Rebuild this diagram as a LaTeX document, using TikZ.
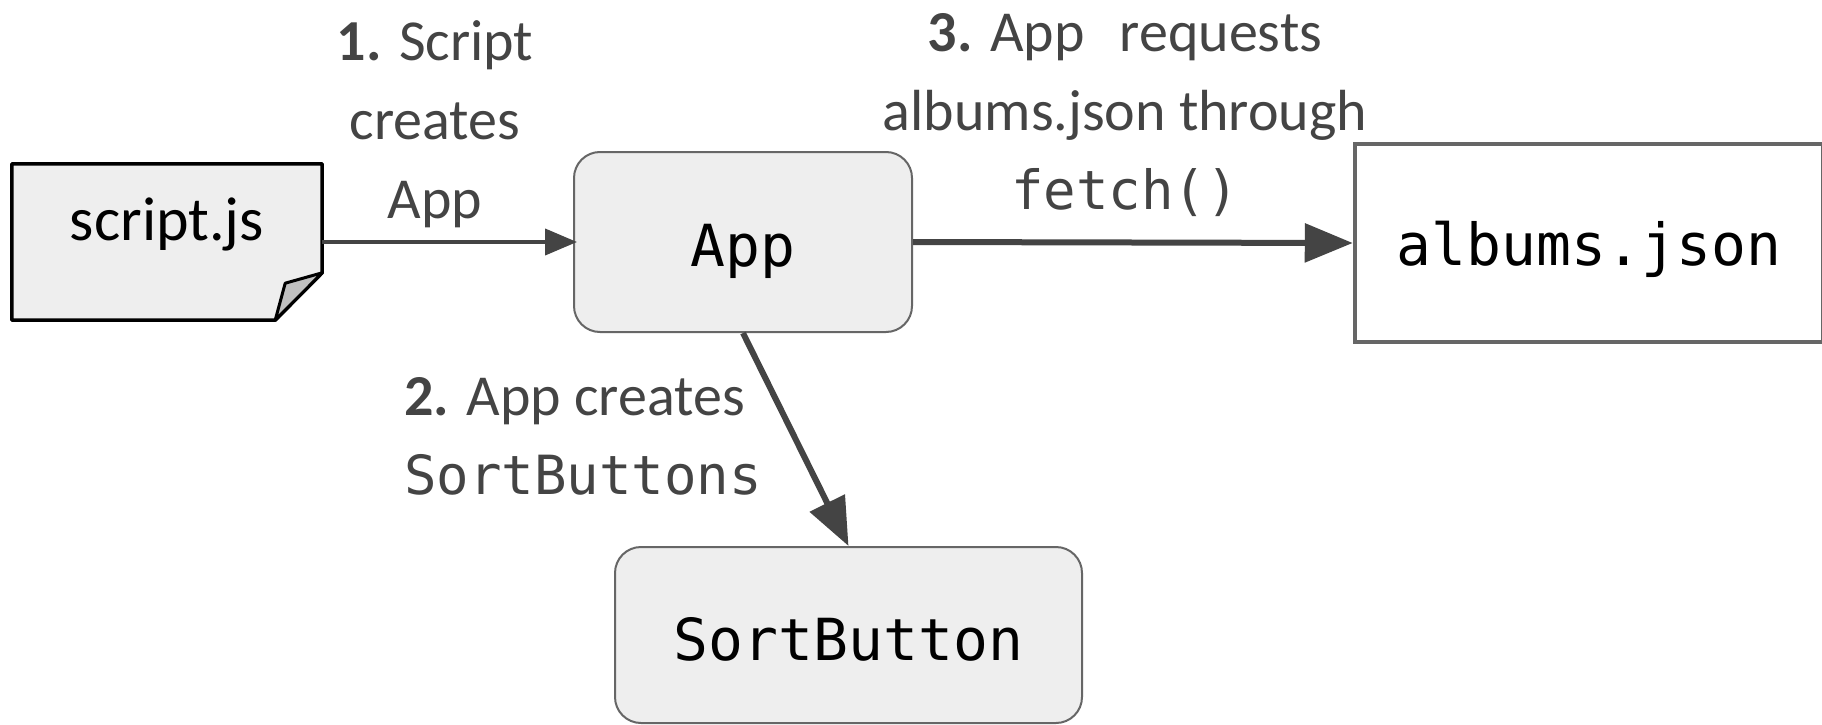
\documentclass[tikz,border=0pt]{standalone}
\usepackage{fontspec}
\setmainfont{Carlito}
\newfontfamily\codefont{DejaVu Sans Mono}
\usetikzlibrary{arrows.meta,backgrounds,calc}
\definecolor{boxfill}{HTML}{EEEEEE}
\definecolor{boxline}{HTML}{666666}
\definecolor{flowgray}{HTML}{444444}
\definecolor{labelgray}{HTML}{444444}
\definecolor{foldgray}{HTML}{C0C0C0}
\newcommand{\labelcode}[1]{{\codefont\fontsize{54}{79}\selectfont #1}}

\begin{document}
\begin{tikzpicture}[x=1pt,y=-1pt,
  component/.style={draw=boxline, line width=2pt, fill=boxfill, rounded corners=26pt,
    font=\codefont\fontsize{58}{70}\selectfont, text depth=0pt},
  datafile/.style={draw=boxline, line width=4.5pt, fill=white,
    font=\codefont\fontsize{58}{70}\selectfont, text depth=0pt},
  docfile/.style={inner sep=0pt, font=\fontsize{62}{70}\selectfont},
  lbl/.style={inner sep=0pt, text=labelgray, font=\fontsize{58}{79}\selectfont},
  flow/.style={draw=flowgray, line join=miter},
  smallhead/.style={-{Triangle[length=32pt,width=26pt]}},
  bighead/.style={-{Triangle[length=48pt,width=38pt]}},
]
\useasboundingbox (0,0) rectangle (1822,725);

% components
\node[docfile, minimum width=310pt, minimum height=156pt, text height=20pt, text depth=24pt]
  (script) at (167,242) {script.js};
\node[component, minimum width=338pt, minimum height=180pt, text height=48pt]
  (app) at (743,242) {App};
\node[datafile, minimum width=468pt, minimum height=198pt, text height=44pt]
  (json) at (1589,243) {albums.json};
\node[component, minimum width=467pt, minimum height=176pt, text height=50pt]
  (sort) at (848.5,635) {SortButton};

% page background and the dog-eared document outline
\begin{pgfonlayer}{background}
  \fill[white] (0,0) rectangle (1822,725);
  \draw[black, line width=3.5pt, fill=boxfill, line join=round]
    (script.north west) -- (script.north east) -- ($(script.north east)+(0,109)$)
    -- ($(script.south east)+(-47,0)$) -- (script.south west) -- cycle;
\end{pgfonlayer}
\draw[black, line width=3pt, fill=foldgray, line join=round]
  ($(script.north east)+(0,109)$) -- ($(script.south east)+(-37,-37)$)
  -- ($(script.south east)+(-47,0)$) -- cycle;

% connectors
\draw[flow, line width=4pt, smallhead] (script.east) -- ($(app.west)+(4,0)$);
\draw[flow, line width=6pt, bighead] (app.east) -- (json.west);
\draw[flow, line width=6pt, bighead] (app.south) -- (sort.north);

% step labels (anchored on the baseline of their last line)
\node[lbl, align=center, anchor=base] (step1) at (435,218)
  {\textbf{1.} Script\\creates\\App};
\node[lbl, align=center, anchor=base] (step3) at (1125,209)
  {\textbf{3.} App\hspace{35pt}requests\\albums.json through\\\labelcode{fetch()}};
\node[lbl, align=left, anchor=base west] (step2) at (404,494)
  {\textbf{2.} App creates\\\labelcode{SortButtons}};
\end{tikzpicture}
\end{document}
